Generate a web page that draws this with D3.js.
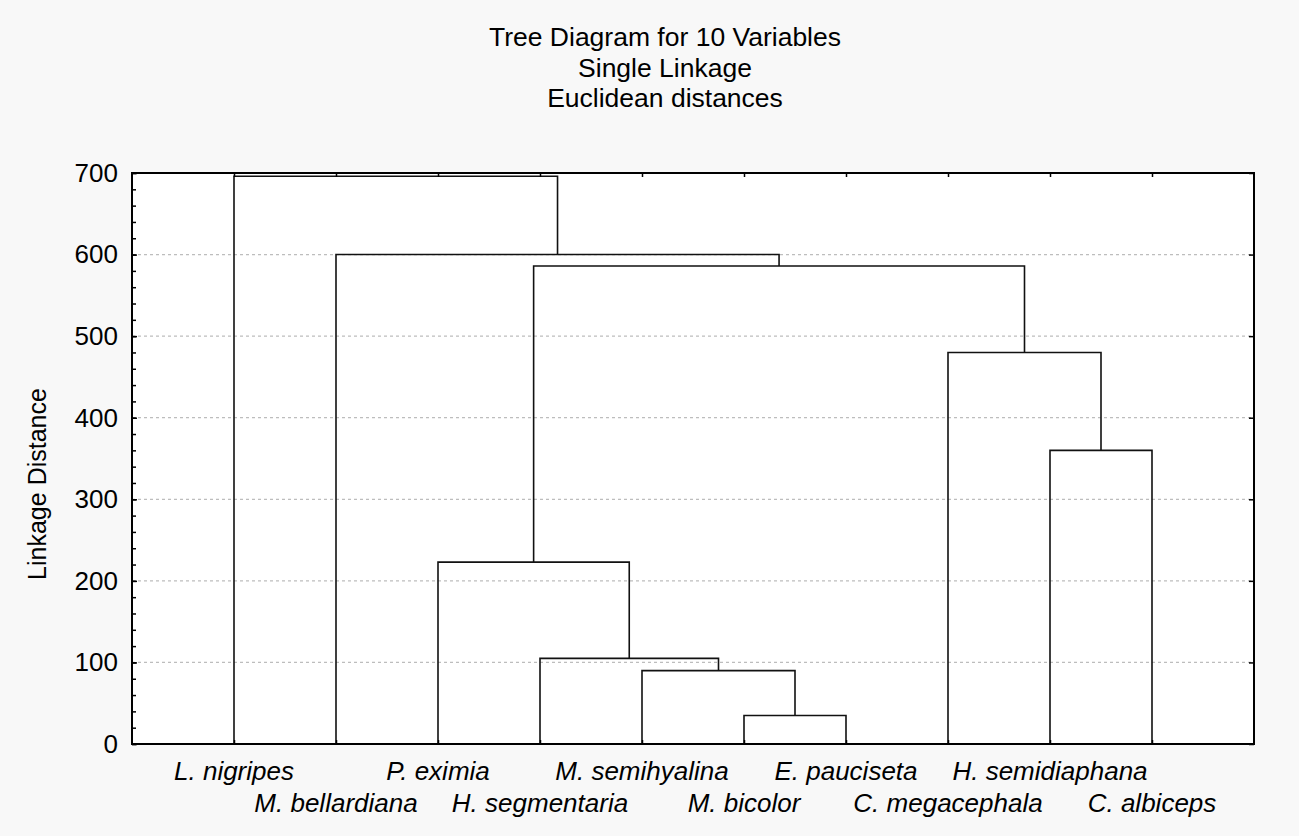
<!DOCTYPE html>
<html>
<head>
<meta charset="utf-8">
<script src="https://cdn.jsdelivr.net/npm/d3@7"></script>
<style>
  html, body { margin: 0; padding: 0; background: #f8f8f8; }
  svg { display: block; }
  text { font-family: "Liberation Sans", Arial, sans-serif; fill: #000; }
</style>
</head>
<body>
<svg id="chart" width="1299" height="836"></svg>
<script>
// Leaves in dendrogram order
const leaves = [
  "L. nigripes", "M. bellardiana", "P. eximia", "H. segmentaria", "M. semihyalina",
  "M. bicolor", "E. pauciseta", "C. megacephala", "H. semidiaphana", "C. albiceps"
];
// Agglomeration steps: ids 0-9 are leaves, each merge creates id 10, 11, ...
const mergeLeft   = [5, 4, 3, 2, 8, 7, 13, 1, 0];
const mergeRight  = [6, 10, 11, 12, 9, 14, 15, 16, 17];
const mergeHeight = [35, 90, 105, 223, 360, 480, 586, 600, 696];
const yTicks = [0, 100, 200, 300, 400, 500, 600, 700];
const gridValues = [100, 200, 300, 400, 500, 600];
const titleLines = ["Tree Diagram for 10 Variables", "Single Linkage", "Euclidean distances"];
const yLabel = "Linkage Distance";

const svg = d3.select("#chart");
const margin = { left: 132, right: 45, top: 173, bottom: 92 };
const W = 1299, H = 836;
const x0 = margin.left, x1 = W - margin.right, y0 = margin.top, y1 = H - margin.bottom;

const x = d3.scaleLinear().domain([0, leaves.length + 1]).range([x0, x1]);
const y = d3.scaleLinear().domain([0, 700]).range([y1, y0]);

// plot background
svg.append("rect").attr("x", x0).attr("y", y0).attr("width", x1 - x0).attr("height", y1 - y0)
  .attr("fill", "#fff");

// grid
svg.append("g").selectAll("line").data(gridValues).join("line")
  .attr("x1", x0).attr("x2", x1)
  .attr("y1", d => y(d)).attr("y2", d => y(d))
  .attr("stroke", "#bdbdbd").attr("stroke-width", 1.2).attr("stroke-dasharray", "3,3");

// dendrogram links
const pos = leaves.map((d, i) => ({ x: x(i + 1), h: 0 }));
const links = svg.append("g").attr("fill", "none").attr("stroke", "#111").attr("stroke-width", 1.6);
mergeHeight.forEach((h, k) => {
  const a = pos[mergeLeft[k]], b = pos[mergeRight[k]];
  const path = d3.path();
  path.moveTo(a.x, y(a.h));
  path.lineTo(a.x, y(h));
  path.lineTo(b.x, y(h));
  path.lineTo(b.x, y(b.h));
  links.append("path").attr("d", path.toString());
  pos.push({ x: (a.x + b.x) / 2, h: h });
});

// axes (ticks pointing inward)
const axisFont = "26px";
const leftAxis = svg.append("g").attr("transform", `translate(${x0},0)`)
  .call(d3.axisLeft(y).tickValues(yTicks).tickSize(-5).tickPadding(14).tickFormat(d3.format("d")));
leftAxis.selectAll("text").style("font-size", axisFont);
svg.append("g").attr("transform", `translate(${x0},0)`)
  .call(d3.axisLeft(y).tickValues(d3.range(0, 701, 20)).tickSize(-4).tickFormat(""));
svg.append("g").attr("transform", `translate(${x1},0)`)
  .call(d3.axisRight(y).tickValues(yTicks).tickSize(-5).tickFormat(""));
svg.append("g").attr("transform", `translate(0,${y0})`)
  .call(d3.axisTop(x).tickValues(d3.range(1, leaves.length + 1)).tickSize(-4).tickFormat(""));
svg.append("g").attr("transform", `translate(0,${y1})`)
  .call(d3.axisBottom(x).tickValues(d3.range(1, leaves.length + 1)).tickSize(-4).tickFormat(""));
svg.selectAll(".domain").remove();
svg.selectAll(".tick line").attr("stroke", "#000").attr("stroke-width", 1.5);

// frame
svg.append("rect").attr("x", x0).attr("y", y0).attr("width", x1 - x0).attr("height", y1 - y0)
  .attr("fill", "none").attr("stroke", "#000").attr("stroke-width", 2);

// leaf labels in two staggered rows
svg.append("g").selectAll("text").data(leaves).join("text")
  .attr("x", (d, i) => x(i + 1))
  .attr("y", (d, i) => i % 2 === 0 ? y1 + 36 : y1 + 68)
  .attr("text-anchor", "middle")
  .style("font-style", "italic").style("font-size", axisFont)
  .text(d => d);

// titles
svg.append("g").selectAll("text").data(titleLines).join("text")
  .attr("x", 665).attr("y", (d, i) => 46 + i * 30.5)
  .attr("text-anchor", "middle").style("font-size", "26.5px")
  .text(d => d);

// y axis title
svg.append("text")
  .attr("transform", `translate(46,484) rotate(-90)`)
  .attr("text-anchor", "middle").style("font-size", "25px")
  .text(yLabel);
</script>
</body>
</html>
